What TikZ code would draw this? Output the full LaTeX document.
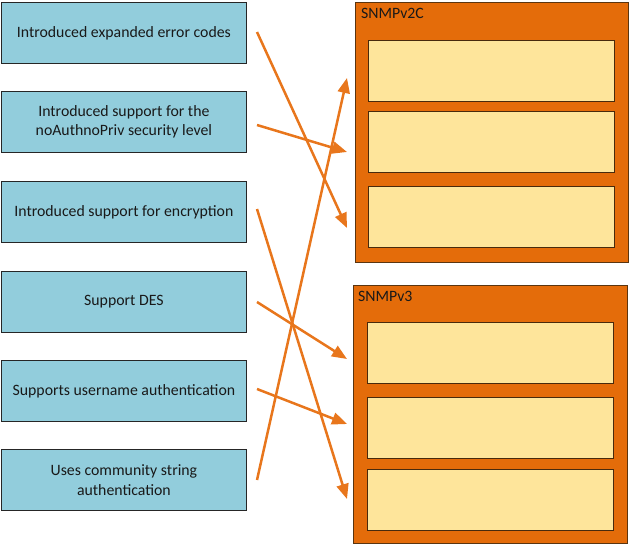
\documentclass[tikz,border=0pt]{standalone}
\usepackage{fontspec}
\setmainfont{Carlito}
\usetikzlibrary{arrows.meta}
\definecolor{boxblue}{HTML}{92CDDC}
\definecolor{boxedge}{HTML}{262626}
\definecolor{cont}{HTML}{E46C0A}
\definecolor{contedge}{HTML}{5A3510}
\definecolor{inner}{HTML}{FEE59B}
\definecolor{arr}{HTML}{E8761C}
\begin{document}
\begin{tikzpicture}[x=1pt,y=-1pt,
  txt/.style={font=\fontsize{15.8}{19.5}\selectfont},
  leftbox/.style={txt,draw=boxedge,fill=boxblue,line width=0.8pt,minimum width=245pt,minimum height=61pt,anchor=north west,align=center,inner sep=0pt,text=black!90},
  container/.style={draw=contedge,fill=cont,line width=0.8pt,anchor=north west,inner sep=0pt},
  innerbox/.style={draw=contedge!80!black,fill=inner,line width=0.8pt,minimum width=246pt,minimum height=61pt,anchor=north west,inner sep=0pt},
  clabel/.style={txt,anchor=north west,inner sep=0pt,text=black!90},
  conn/.style={draw=arr,line width=2.5pt,-{Triangle[length=15pt,width=12pt]}}]
\useasboundingbox (0,0) rectangle (630,546);
% containers
\node[container,minimum width=273pt,minimum height=260pt] (v2) at (355,2) {};
\node[container,minimum width=274pt,minimum height=258pt] (v3) at (353,285) {};
\node[clabel] (v2lab) at (361,8) {SNMPv2C};
\node[clabel] (v3lab) at (358,291) {SNMPv3};
% inner boxes
\node[innerbox] (a1) at (368,40) {};
\node[innerbox] (a2) at (368,111) {};
\node[innerbox] (a3) at (368,186) {};
\node[innerbox] (b1) at (367,322) {};
\node[innerbox] (b2) at (367,397) {};
\node[innerbox] (b3) at (367,469) {};
% left boxes
\node[leftbox] (l1) at (1,2) {Introduced expanded error codes};
\node[leftbox] (l2) at (1,91) {Introduced support for the\\noAuthnoPriv security level};
\node[leftbox] (l3) at (1,181) {Introduced support for encryption};
\node[leftbox] (l4) at (1,271) {Support DES};
\node[leftbox] (l5) at (1,360) {Supports username authentication};
\node[leftbox] (l6) at (1,449) {Uses community string\\authentication};
% connector ends
\coordinate (s1) at (257,32);
\coordinate (s2) at (257,125);
\coordinate (s3) at (257,209);
\coordinate (s4) at (257,302);
\coordinate (s5) at (257,389);
\coordinate (s6) at (257,480);
\coordinate (e1) at (347,228);
\coordinate (e2) at (347,152);
\coordinate (e3) at (347,499);
\coordinate (e4) at (347,359);
\coordinate (e5) at (347,424);
\coordinate (e6) at (347,78);
\draw[conn] (s1) -- (e1);
\draw[conn] (s2) -- (e2);
\draw[conn] (s3) -- (e3);
\draw[conn] (s4) -- (e4);
\draw[conn] (s5) -- (e5);
\draw[conn] (s6) -- (e6);
\end{tikzpicture}
\end{document}
